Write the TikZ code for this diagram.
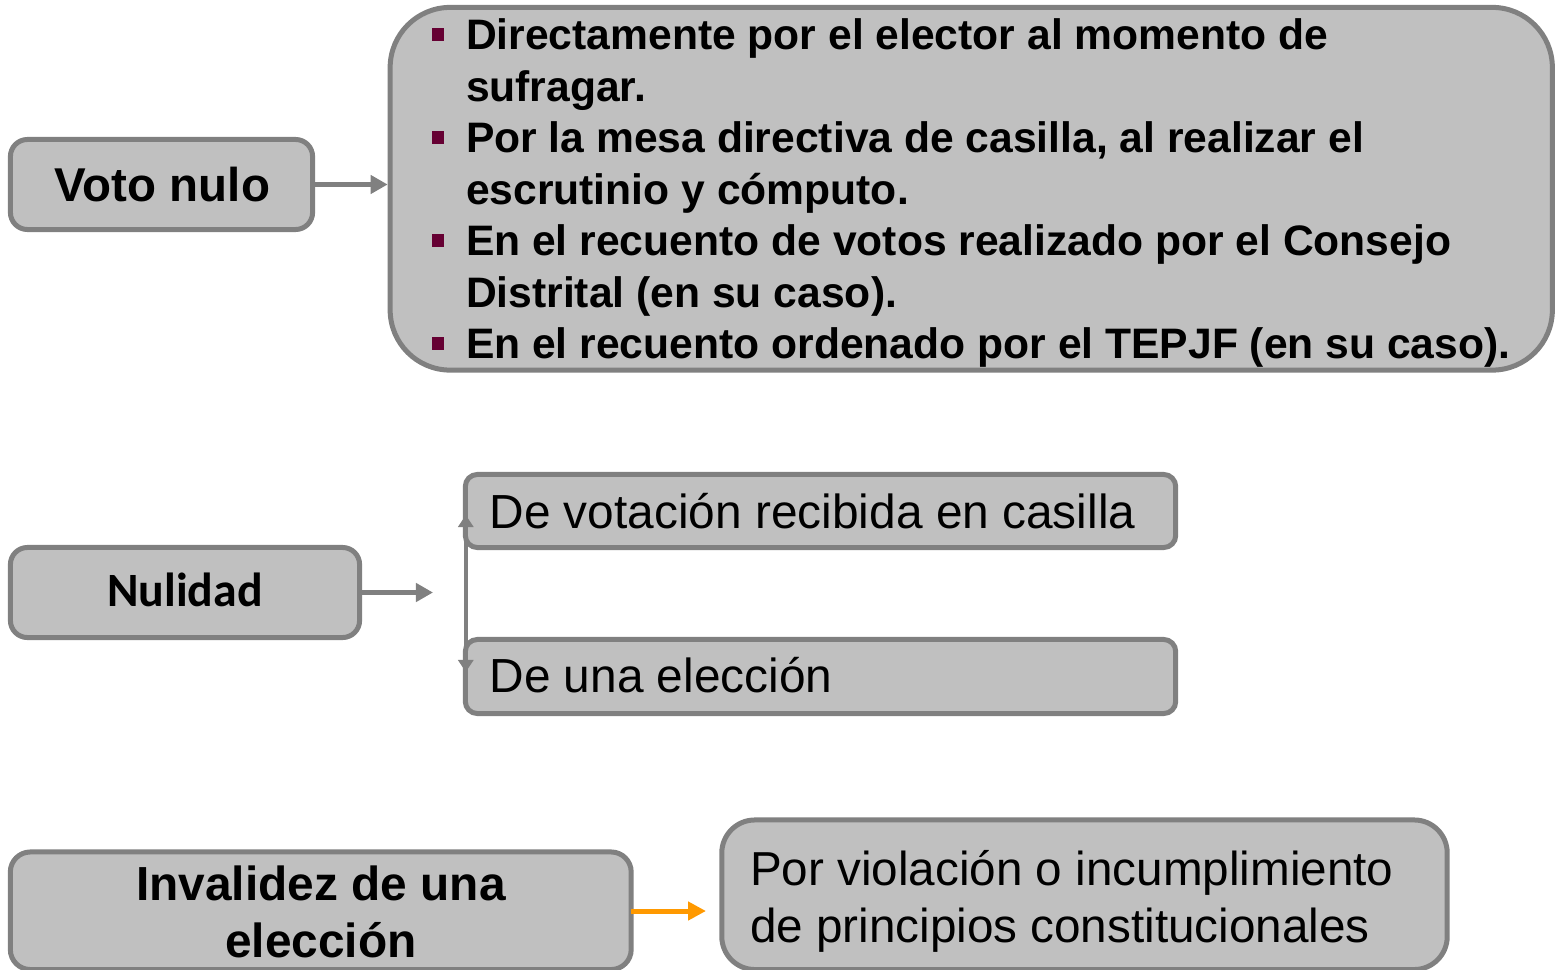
\documentclass[tikz,border=0pt]{standalone}
\usepackage{fontspec}
\setmainfont{Liberation Sans}
\newfontfamily\calibri{Carlito}
\usetikzlibrary{arrows.meta}
\definecolor{boxfill}{HTML}{C0C0C0}
\definecolor{boxline}{HTML}{808080}
\definecolor{bul}{HTML}{660033}
\definecolor{orangeline}{HTML}{FF9900}
\tikzset{
  box/.style={draw=boxline, fill=boxfill, line width=0.05cm, inner sep=0pt, outer sep=0pt, rectangle},
  txt/.style={inner sep=0pt, outer sep=0pt, anchor=base west, text=black},
  ctxt/.style={inner sep=0pt, outer sep=0pt, anchor=base, text=black},
  con/.style={draw=boxline, line width=0.045cm, -{Triangle[length=0.17cm,width=0.18cm]}},
  vcon/.style={draw=boxline, line width=0.04cm, {Triangle[length=0.12cm,width=0.15cm]}-{Triangle[length=0.12cm,width=0.15cm]}},
  ocon/.style={draw=orangeline, line width=0.05cm, -{Triangle[length=0.18cm,width=0.18cm]}},
  bulfont/.style={font=\fontsize{12.12}{14.62}\selectfont\bfseries},
}
\begin{document}
\begin{tikzpicture}[x=0.01cm,y=-0.01cm]
\useasboundingbox (0,0) rectangle (1555,970);

% top row
\node[box, rounded corners=0.17cm, minimum width=3.02cm, minimum height=0.9cm] (voto) at (161.5,184.5) {};
\node[ctxt, font=\fontsize{13.5}{16}\selectfont\bfseries] (votot) at (162.5,201.5) {Voto nulo};
\node[box, rounded corners=0.6cm, minimum width=11.615cm, minimum height=3.625cm] (big) at (971.25,188.75) {};
\draw[con, shorten >=0.025cm] (voto.east) -- (voto.east -| big.west);

\fill[bul] (432,28.5) rectangle (443.5,41.5);
\fill[bul] (432,131.3) rectangle (443.5,144.3);
\fill[bul] (432,234.1) rectangle (443.5,247.1);
\fill[bul] (432,336.9) rectangle (443.5,349.9);
\node[txt, bulfont] (b1) at (466,50) {Directamente por el elector al momento de};
\node[txt, bulfont] (b2) at (466,101.4) {sufragar.};
\node[txt, bulfont] (b3) at (466,152.8) {Por la mesa directiva de casilla, al realizar el};
\node[txt, bulfont] (b4) at (466,204.2) {escrutinio y cómputo.};
\node[txt, bulfont] (b5) at (466,255.6) {En el recuento de votos realizado por el Consejo};
\node[txt, bulfont] (b6) at (466,307) {Distrital (en su caso).};
\node[txt, bulfont] (b7) at (466,358.4) {En el recuento ordenado por el TEPJF (en su caso).};

% middle row
\node[box, rounded corners=0.17cm, minimum width=3.49cm, minimum height=0.9cm] (nul) at (185,592.5) {};
\node[ctxt, font=\calibri\fontsize{13.6}{16}\selectfont\bfseries] (nult) at (185,606.5) {Nulidad};
\coordinate (nend) at (433,592.5);
\draw[con] (nul.east) -- (nend);

\node[box, rounded corners=0.12cm, minimum width=7.1cm, minimum height=0.73cm] (v1) at (820.5,511) {};
\node[box, rounded corners=0.12cm, minimum width=7.1cm, minimum height=0.74cm] (v2) at (820.5,676.5) {};
\node[txt, font=\fontsize{13.6}{16}\selectfont] (v1t) at (489.5,528.5) {De votación recibida en casilla};
\node[txt, font=\fontsize{13.6}{16}\selectfont] (v2t) at (489.5,692.5) {De una elección};
\draw[vcon, shorten <=0.04cm, shorten >=0.045cm] ([xshift=0.005cm]v1.west) -- ([xshift=0.005cm]v2.west);

% bottom row
\node[box, rounded corners=0.2cm, minimum width=6.205cm, minimum height=1.175cm] (inv) at (320.75,910.75) {};
\node[ctxt, font=\fontsize{13.6}{16}\selectfont\bfseries] (inv1) at (321,900) {Invalidez de una};
\node[ctxt, font=\fontsize{13.6}{16}\selectfont\bfseries] (inv2) at (321,957) {elección};
\node[box, rounded corners=0.33cm, minimum width=7.25cm, minimum height=1.495cm] (por) at (1084.5,894.75) {};
\node[txt, font=\fontsize{13.55}{16}\selectfont] (por1) at (750,885) {Por violación o incumplimiento};
\node[txt, font=\fontsize{13.55}{16}\selectfont] (por2) at (750,942) {de principios constitucionales};
\coordinate (oend) at (706,911);
\draw[ocon] (inv.east |- oend) -- (oend);
\end{tikzpicture}
\end{document}
